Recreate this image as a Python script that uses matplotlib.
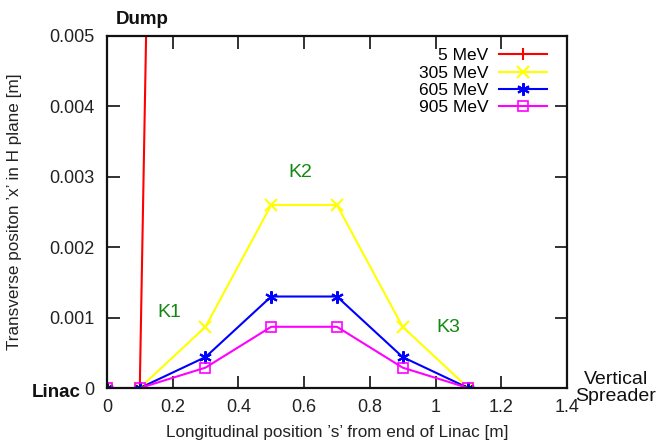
import matplotlib
matplotlib.use('Agg')
import matplotlib.pyplot as plt

plt.rcParams['font.family'] = ['Liberation Sans', 'DejaVu Sans']

# ── data ──────────────────────────────────────────────────────────────────
s_5 = [0.0, 0.1, 0.3]
x_5 = [0.0, 0.0, 0.052]

s_kick = [0.0, 0.1, 0.3, 0.5, 0.7, 0.9, 1.1]
x_305 = [0.0, 0.0, 0.00087, 0.0026, 0.0026, 0.00087, 0.0]
x_605 = [0.0, 0.0, 0.00044, 0.0013, 0.0013, 0.00044, 0.0]
x_905 = [0.0, 0.0, 0.00029, 0.00087, 0.00087, 0.00029, 0.0]

xticks = [0, 0.2, 0.4, 0.6, 0.8, 1.0, 1.2, 1.4]
xtick_labels = ['0', '0.2', '0.4', '0.6', '0.8', '1', '1.2', '1.4']
yticks = [0, 0.001, 0.002, 0.003, 0.004, 0.005]
ytick_labels = ['0', '0.001', '0.002', '0.003', '0.004', '0.005']

fig = plt.figure(figsize=(6.6, 4.44), dpi=100)
ax = fig.add_axes([0.162, 0.126, 0.697, 0.793])

ax.plot(s_5, x_5, '-', color='#ff0000', lw=1.5, marker='|', ms=9,
        mew=1.5, label='5 MeV')
ax.plot(s_kick, x_305, '-', color='#ffff00', lw=1.5, marker='x', ms=8,
        mew=1.5, label='305 MeV')
ax.plot(s_kick, x_605, '-', color='#0000ff', lw=1.5, marker=(6, 2, 0),
        ms=9, mew=1.5, label='605 MeV')
ax.plot(s_kick, x_905, '-', color='#ff00ff', lw=1.5, marker='s', ms=7,
        mfc='none', mew=1.2, label='905 MeV')

ax.set_xlim(0, 1.4)
ax.set_ylim(0, 0.005)
ax.set_xticks(xticks)
ax.set_xticklabels(xtick_labels)
ax.set_yticks(yticks)
ax.set_yticklabels(ytick_labels)
ax.tick_params(direction='in', top=True, right=True, length=9, width=1.3,
               labelsize=13, colors='#222222')
ax.tick_params(axis='x', pad=8)
ax.tick_params(axis='y', pad=9)
for sp in ax.spines.values():
    sp.set_linewidth(1.6)
    sp.set_color('#111111')

ax.set_xlabel('Longitudinal position \u2019s\u2019 from end of Linac [m]',
              fontsize=12.3, color='#222222')
ax.set_ylabel('Transverse positon \u2019x\u2019 in H plane [m]',
              fontsize=12.3, color='#222222')
ax.xaxis.set_label_coords(0.5, -0.105)
ax.yaxis.set_label_coords(-0.185, 0.5)

leg = ax.legend(loc='upper right', frameon=False, markerfirst=False,
                fontsize=12.5, handlelength=2.8, borderaxespad=0.25,
                labelspacing=0.12, handletextpad=0.6,
                bbox_to_anchor=(0.982, 0.997))

# annotations
green = '#118811'
ax.text(0.19, 0.00108, 'K1', color=green, fontsize=14, ha='center', va='center')
ax.text(0.59, 0.00306, 'K2', color=green, fontsize=14, ha='center', va='center')
ax.text(1.04, 0.00086, 'K3', color=green, fontsize=14, ha='center', va='center')

fig.text(0.215, 0.955, 'Dump', fontsize=13.5, fontweight='bold',
         ha='center', va='center', color='#111111')
fig.text(0.085, 0.117, 'Linac', fontsize=13.5, fontweight='bold',
         ha='center', va='center', color='#111111')
fig.text(0.933, 0.127, 'Vertical\nSpreader', fontsize=14,
         ha='center', va='center', color='#111111', linespacing=1.0)

fig.savefig('out.png', dpi=100)
